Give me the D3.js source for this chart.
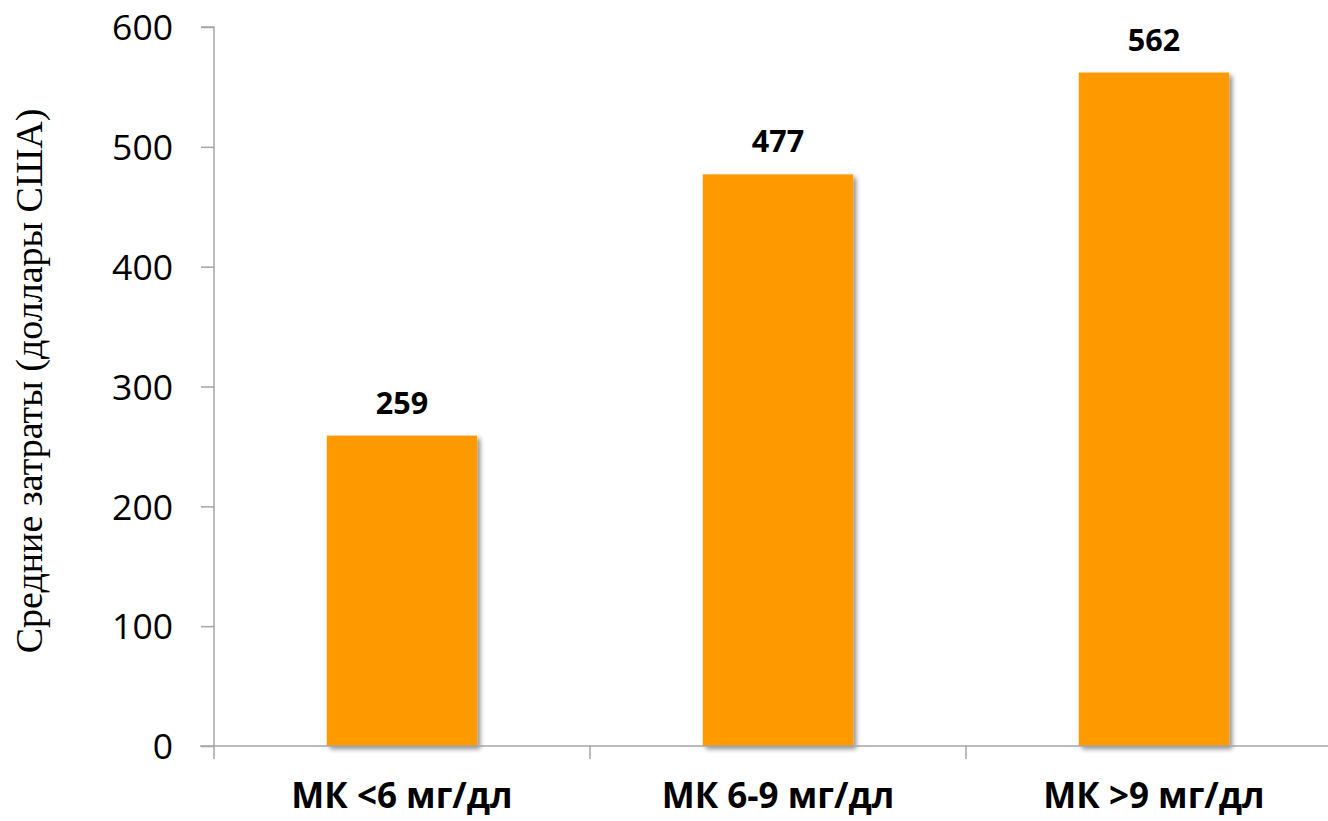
<!DOCTYPE html>
<html><head><meta charset="utf-8">
<script src="https://cdn.jsdelivr.net/npm/d3@7"></script>
<style>body{margin:0;background:#fff}svg{display:block}</style>
</head><body>
<svg id="c" width="1328" height="821"></svg>
<script>
const categories = ["МК <6 мг/дл", "МК 6-9 мг/дл", "МК >9 мг/дл"];
const values = [259, 477, 562];
const yTicks = [0, 100, 200, 300, 400, 500, 600];
const yTitle = "Средние затраты (доллары США)";

const svg = d3.select("#c");
const x0 = 214, x1 = 1342, yTop = 27, yBot = 746;
const x = d3.scaleBand().domain(categories).range([x0, x1]).paddingInner(0.6).paddingOuter(0.3);
const y = d3.scaleLinear().domain([0, 600]).range([yBot, yTop]);

const defs = svg.append("defs");
const f = defs.append("filter").attr("id","sh").attr("x","-10%").attr("y","-10%").attr("width","130%").attr("height","130%");
f.append("feGaussianBlur").attr("in","SourceAlpha").attr("stdDeviation",2.5);
f.append("feOffset").attr("dx",3).attr("dy",3).attr("result","b");
f.append("feComponentTransfer").append("feFuncA").attr("type","linear").attr("slope",0.45);
const m = f.append("feMerge"); m.append("feMergeNode"); m.append("feMergeNode").attr("in","SourceGraphic");

const axisColor = "#a6a6a6";
// y axis
const ya = svg.append("g").attr("transform",`translate(${x0},0)`)
  .call(d3.axisLeft(y).tickValues(yTicks).tickSize(13).tickPadding(28));
ya.select(".domain").attr("stroke",axisColor).attr("stroke-width",1.5).attr("d",`M-13,${yTop}H0V${yBot}`);
ya.selectAll(".tick line").attr("stroke",axisColor).attr("stroke-width",1.5);
ya.selectAll(".tick text").attr("font-family","Open Sans").attr("font-size",35.5).attr("fill","#000").attr("dy","0.36em");

// bars
svg.append("g").selectAll("rect").data(values).join("rect")
  .attr("x",(d,i)=>x(categories[i])).attr("width",x.bandwidth())
  .attr("y",d=>y(d)).attr("height",d=>yBot-y(d))
  .attr("fill","#ff9900").attr("filter","url(#sh)");

// x axis
const xa = svg.append("g").attr("transform",`translate(0,${yBot})`)
  .call(d3.axisBottom(x).tickSize(0).tickPadding(37));
xa.select(".domain").attr("stroke",axisColor).attr("stroke-width",1.5).attr("d",`M${x0-14},0H${x1}`);
xa.selectAll(".tick text").attr("font-family","Open Sans").attr("font-weight","bold").attr("font-size",35).attr("fill","#000").attr("dy","0.72em");
const bounds = [0,1,2,3].map(i=>x0 + i*(x.range()[1]-x.range()[0])/3);
svg.append("g").selectAll("line").data(bounds).join("line")
  .attr("x1",d=>d).attr("x2",d=>d).attr("y1",yBot).attr("y2",yBot+13)
  .attr("stroke",axisColor).attr("stroke-width",1.5);

// value labels
svg.append("g").selectAll("text").data(values).join("text")
  .attr("x",(d,i)=>x(categories[i])+x.bandwidth()/2).attr("y",d=>y(d)-22)
  .attr("text-anchor","middle").attr("font-family","Open Sans").attr("font-weight","bold").attr("font-size",30.5)
  .text(d=>d);

// y title
svg.append("text").attr("transform","translate(42,381) rotate(-90)")
  .attr("text-anchor","middle").attr("font-family","Liberation Serif").attr("font-size",38).text(yTitle);
</script>
</body></html>
